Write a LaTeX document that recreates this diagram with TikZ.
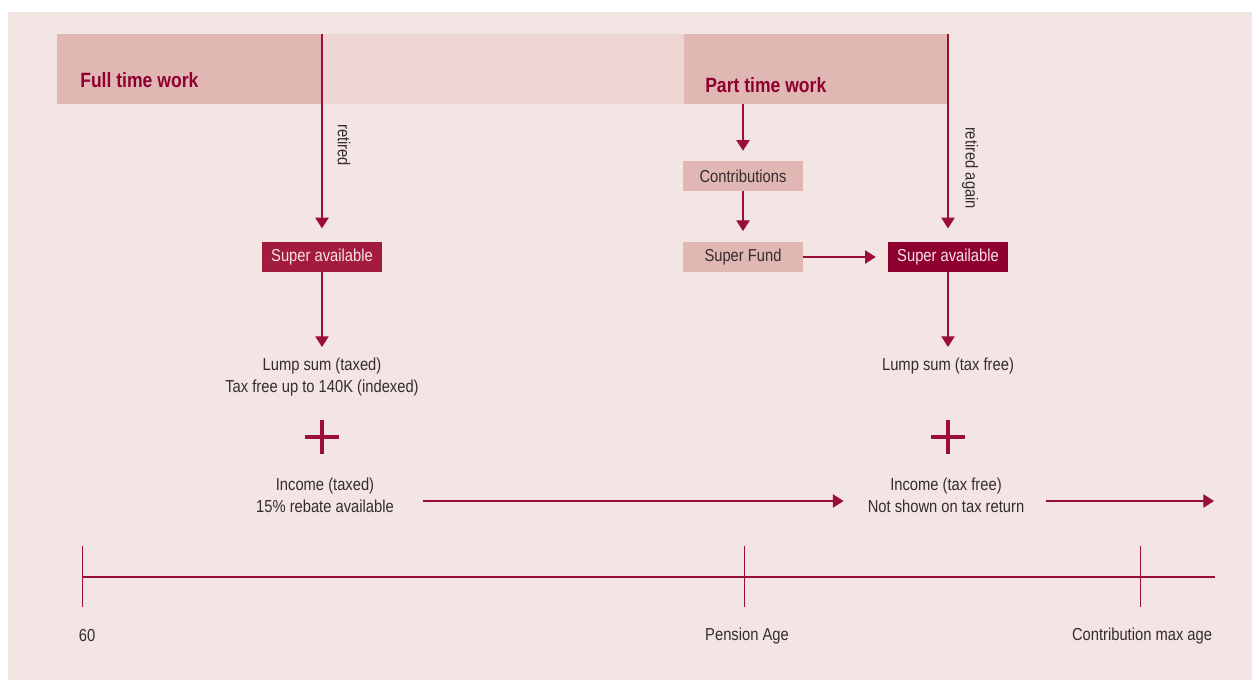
\documentclass[tikz,border=0pt]{standalone}
\usepackage{fontspec}
\setmainfont{Liberation Sans}[FakeStretch=0.85]
\usepackage{tikz}
\usetikzlibrary{arrows.meta}
\usepackage{xcolor}

\definecolor{bgpink}{HTML}{F3E5E3}
\definecolor{bandlight}{HTML}{EDD5D1}
\definecolor{banddark}{HTML}{E0B7B3}
\definecolor{linered}{HTML}{9B0E3A}
\definecolor{titlered}{HTML}{8E0030}
\definecolor{superred}{HTML}{A31B3F}
\definecolor{superdark}{HTML}{8E0030}
\definecolor{txtgrey}{HTML}{342C2E}
\definecolor{boxtext}{HTML}{F7E3E7}

\begin{document}
\begin{tikzpicture}[x=0.75pt,y=-0.75pt,
    txt/.style={font=\fontsize{13}{16.5}\selectfont,text=txtgrey,align=center,inner sep=2pt},
    worklabel/.style={font=\fontsize{15.5}{18}\selectfont\bfseries,text=titlered,inner sep=0pt},
    lightbox/.style={txt,fill=banddark,minimum width=90pt,minimum height=22.5pt,inner sep=0pt},
    superbox/.style={txt,text=boxtext,minimum width=90pt,minimum height=22.5pt,inner sep=0pt},
    arrow/.style={linered,line width=0.9pt,-{Triangle[length=8pt,width=10pt]}},
    tick/.style={linered,line width=0.6pt},
    timeline/.style={linered,line width=1.4pt}]

    % Hintergrund mit weissem Rand oben und links
    \useasboundingbox (0,0) rectangle (1252,680);
    \fill[white] (0,0) rectangle (1252,680);
    \fill[bgpink] (8,12) rectangle (1252,680);

    % Band mit den zwei Arbeitsphasen
    \fill[bandlight] (57,34) rectangle (948,104);
    \fill[banddark] (57,34) rectangle (322,104);
    \fill[banddark] (684,34) rectangle (948,104);
    \node[worklabel,anchor=west] (full) at (80,80) {Full time work};
    \node[worklabel,anchor=west] (part) at (705,85) {Part time work};
    \coordinate (fulltop) at (322,34);
    \coordinate (parttop) at (948,34);
    \coordinate (partbot) at (743,104);

    % Kaesten
    \node[lightbox] (contrib) at (743,176) {Contributions};
    \node[lightbox] (fund) at (743,257) {Super Fund};
    \node[superbox,fill=superred] (superA) at (322,257) {Super available};
    \node[superbox,fill=superdark] (superB) at (948,257) {Super available};

    % Texte unter den Kaesten
    \node[txt] (lumpA) at (322,377) {Lump sum (taxed)\\Tax free up to 140K (indexed)};
    \node[txt] (lumpB) at (948,366) {Lump sum (tax free)};
    \node[txt] (incomeA) at (325,495) {Income (taxed)\\15\% rebate available};
    \node[txt] (incomeB) at (946,495) {Income (tax free)\\Not shown on tax return};
    \coordinate (flowend) at (1214,501);

    % senkrechte Pfeile
    \draw[arrow,shorten >=10pt] (fulltop) -- (superA.north);
    \node[txt,rotate=-90] (retired) at (344,145) {retired};
    \draw[arrow,shorten >=10pt] (parttop) -- (superB.north);
    \node[txt,rotate=-90] (again) at (970,168) {retired again};
    \draw[arrow,shorten >=7.5pt] (partbot) -- (contrib.north);
    \draw[arrow,shorten >=8pt] (contrib.south) -- (fund.north);
    \draw[arrow,shorten >=6pt] (superA.south) -- (lumpA.north);
    \draw[arrow,shorten >=6pt] (superB.south) -- (lumpB.north);

    % waagrechte Pfeile
    \draw[arrow,shorten >=9pt] (fund.east) -- (superB.west);
    \draw[arrow,shorten <=20pt,shorten >=16pt] (incomeA.east |- flowend) -- (incomeB.west |- flowend);
    \draw[arrow,shorten <=14pt] (incomeB.east |- flowend) -- (flowend);

    % Pluszeichen
    \draw[linered,line width=3.3pt] (305,437) -- (339,437) (322,420) -- (322,454);
    \draw[linered,line width=3.3pt] (931,437) -- (965,437) (948,420) -- (948,454);

    % Zeitachse
    \draw[timeline] (82,577) -- (1215,577);
    \foreach \x in {82,744,1140}
        \draw[tick] (\x,546) -- (\x,607);
    \node[txt,anchor=west] (age60) at (76,636) {60};
    \node[txt] (pension) at (747,636) {Pension Age};
    \node[txt,anchor=east] (maxage) at (1215,636) {Contribution max age};

\end{tikzpicture}
\end{document}
